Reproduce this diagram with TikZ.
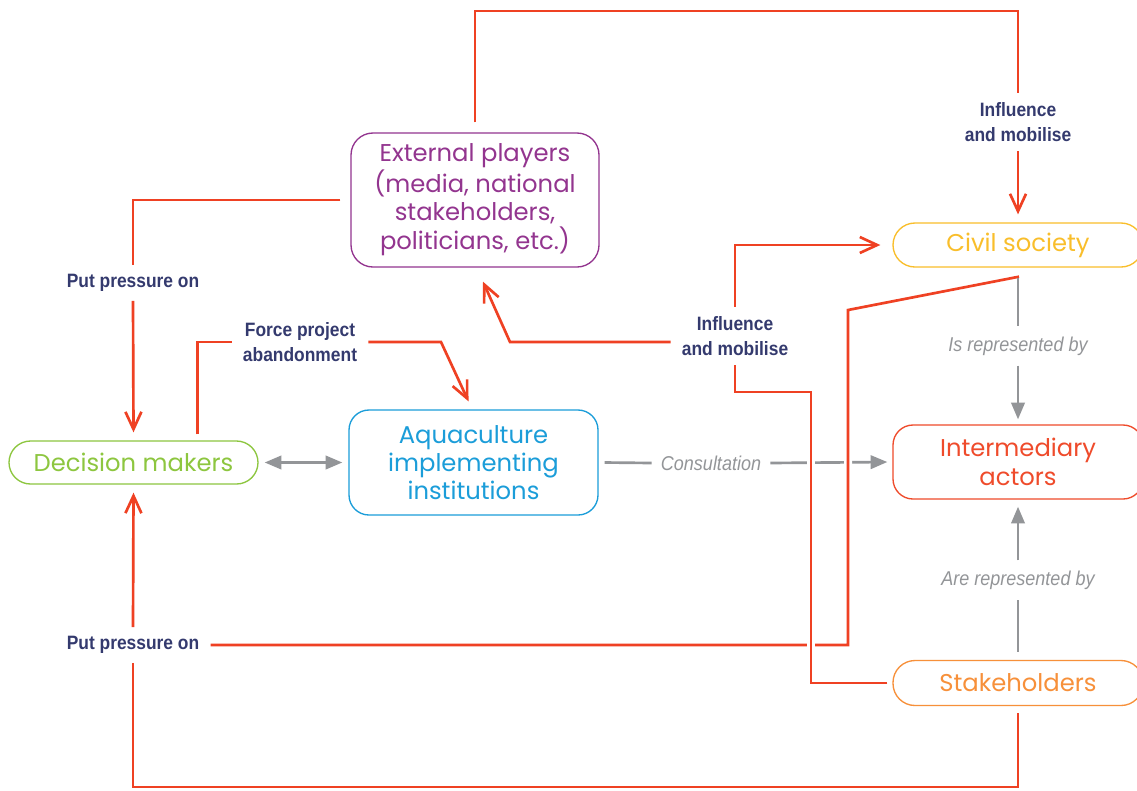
\documentclass[tikz,border=0pt]{standalone}
\usepackage{fontspec}
\setmainfont{Poppins}
\newfontfamily\labfont[FakeStretch=0.9]{Liberation Sans}
\usetikzlibrary{arrows.meta,calc}
\newdimen\px \px=0.75pt
\definecolor{redl}{HTML}{EF4123}
\definecolor{navy}{HTML}{343A6E}
\definecolor{grayl}{HTML}{939598}
\definecolor{purp}{HTML}{93358F}
\definecolor{greenb}{HTML}{8DC63F}
\definecolor{blueb}{HTML}{1B9DD9}
\definecolor{yellowb}{HTML}{F9BE2B}
\definecolor{redb}{HTML}{EF4B2B}
\definecolor{orangeb}{HTML}{F7903A}
\begin{document}
\begin{tikzpicture}[x=0.75pt,y=-0.75pt,
  box/.style={draw, line width=1pt, align=center, inner sep=0pt,
    font=\fontsize{18.2}{21.7}\selectfont},
  lab/.style={text=navy, align=center, inner xsep=11\px, inner ysep=9\px,
    font=\labfont\bfseries\fontsize{14.5}{19}\selectfont},
  glab/.style={text=grayl, inner xsep=9\px, inner ysep=10\px,
    font=\labfont\itshape\fontsize{15}{17}\selectfont},
  rline/.style={draw=redl, line width=2pt},
  rarrow/.style={rline, -{Straight Barb[length=13pt,width=12pt]}},
  casing/.style={preaction={draw=white, line width=6pt}},
  gline/.style={draw=grayl, line width=2pt},
  garrow/.style={gline, -{Triangle[length=12.5pt,width=10pt]}},
  garrows/.style={gline, {Triangle[length=12.5pt,width=10pt]}-{Triangle[length=12.5pt,width=10pt]}}
]
\useasboundingbox (0,0) rectangle (1137,790);
\fill[white] (0,0) rectangle (1137,790);

% boxes
\node[box, draw=purp, text=purp, minimum width=248\px, minimum height=134\px, rounded corners=22\px] (ext) at (475,200) {External players\\(media, national\\stakeholders,\\politicians, etc.)};
\node[box, draw=greenb, text=greenb, minimum width=249\px, minimum height=43\px, rounded corners=21.5\px] (dm) at (133.5,462.5) {Decision makers};
\node[box, draw=blueb, text=blueb, minimum width=249\px, minimum height=105\px, rounded corners=20\px, font=\fontsize{18.2}{21}\selectfont] (aq) at (473.5,462.5) {Aquaculture\\implementing\\institutions};
\node[box, draw=yellowb, text=yellowb, minimum width=250\px, minimum height=44\px, rounded corners=22\px] (cs) at (1018,245) {Civil society};
\node[box, draw=redb, text=redb, minimum width=250\px, minimum height=74\px, rounded corners=20\px] (ia) at (1018,462) {Intermediary\\actors};
\node[box, draw=orangeb, text=orangeb, minimum width=250\px, minimum height=45\px, rounded corners=22\px] (sh) at (1018,683) {Stakeholders};

% labels
\node[lab] (l1) at (1018,122) {Influence\\and mobilise};
\node[lab] (l2) at (133,283) {Put pressure on};
\node[lab] (l3) at (300,342) {Force project\\abandonment};
\node[lab] (l4) at (735,336) {Influence\\and mobilise};
\node[lab] (l5) at (133,645) {Put pressure on};
\node[glab] (cons) at (711,463) {Consultation};
\node[glab] (isrep) at (1018,346) {Is represented by};
\node[glab] (arerep) at (1018,580) {Are represented by};

% corner coordinates
\coordinate (t1) at (1018,11);
\coordinate (a1) at (811,392);
\coordinate (b1) at (848,310);
\coordinate (e1) at (510,342);
\coordinate (f1) at (441,342);
\coordinate (d1) at (1018,787);

% gray consultation lines (under red crossings)
\draw[garrows] ($(dm.east)+(6,0)$) -- ($(aq.west)+(-6,0)$);
\draw[gline] ($(aq.east)+(6,0)$) -- (cons.west);
\draw[garrow] (cons.east) -- ($(ia.west)+(-5,0)$);

% red B: civil society -> put pressure on
\draw[rline, casing] ($(cs.south)+(1,9)$) -- (b1) |- (l5.east);
% red A: stakeholders -> influence and mobilise
\draw[rline, casing] ($(sh.west)+(-5,0)$) -| (a1) -| (l4.south);

% gray vertical representation lines
\draw[gline] ($(cs.south)+(0,10)$) -- (isrep.north);
\draw[garrow] (isrep.south) -- ($(ia.north)+(0,-5)$);
\draw[gline] ($(sh.north)+(0,-8)$) -- (arerep.south);
\draw[garrow] (arerep.north) -- ($(ia.south)+(0,7)$);

% red others
\draw[rline] ($(ext.north)+(0,-10)$) |- (t1) -- (l1.north);
\draw[rarrow] (l1.south) -- ($(cs.north)+(0,-8)$);
\draw[rline] ($(ext.west)+(-10,0)$) -| (l2.north);
\draw[rarrow] (l2.south) -- ($(dm.north)+(0,-8)$);
\draw[rline] ($(dm.north)+(64,-6)$) |- (l3.west);
\draw[rarrow] (l3.east) -- (f1) -- ($(aq.north)+(-5,-8)$);
\draw[rarrow] (l4.north) |- ($(cs.west)+(-12,0)$);
\draw[rarrow] (l4.west |- e1) -- (e1) -- ($(ext.south)+(8,14)$);
\draw[rarrow] (l5.north) -- ($(dm.south)+(0,8)$);
\draw[rline] (l5.south) |- (d1) -- ($(sh.south)+(0,7)$);
\end{tikzpicture}
\end{document}
